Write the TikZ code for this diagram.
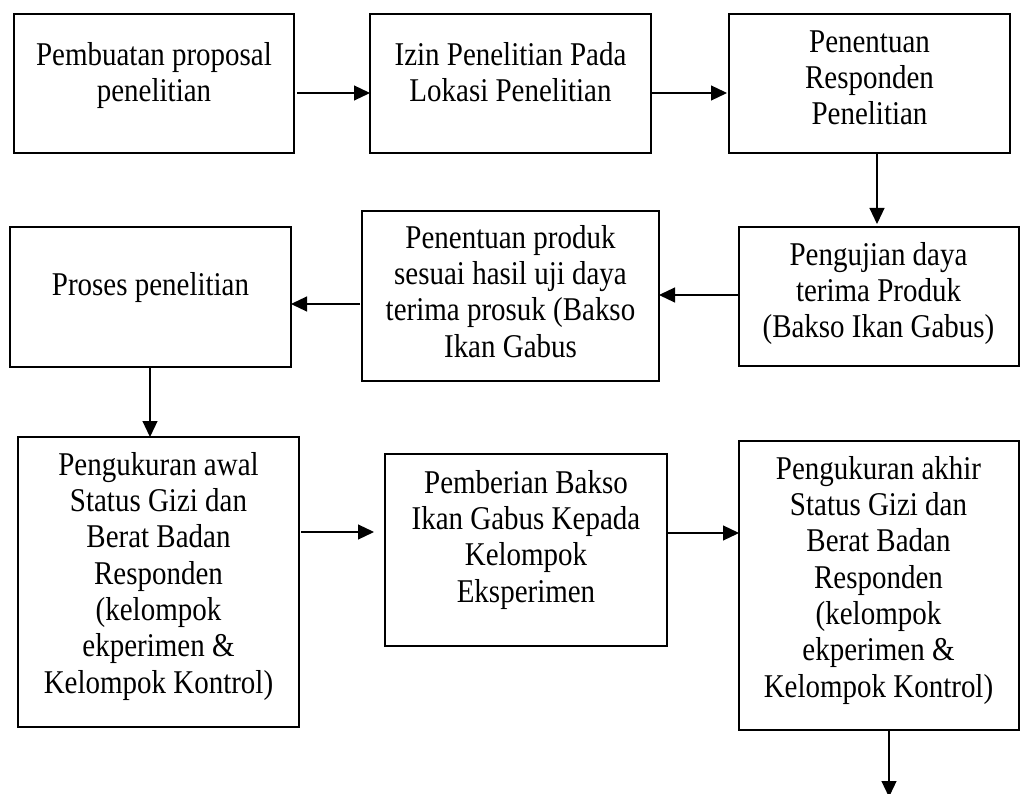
\documentclass[tikz,border=0pt]{standalone}
\usepackage{fontspec}
\setmainfont[FakeStretch=0.873]{Liberation Serif}
\usetikzlibrary{arrows.meta,calc}
\tikzset{
  box/.style={draw=black, line width=2pt, inner sep=0pt, outer sep=0pt, rectangle},
  txt/.style={anchor=north, align=center, inner sep=0pt, font=\fontsize{33.2}{36.3}\selectfont},
  arr/.style={line width=1.2pt, -{Triangle[length=16pt,width=15pt]}}
}
\newcommand{\mkbox}[5]{\node[box, minimum width={#4-#2}, minimum height={#5-#3}] (#1) at ({(#2+#4)/2},{(#3+#5)/2}) {};}
\begin{document}
\begin{tikzpicture}[x=1pt,y=-1pt]
\useasboundingbox (0,0) rectangle (1020,794);
% boxes
\mkbox{b1}{14}{14}{294}{153}
\mkbox{b2}{370}{14}{651}{153}
\mkbox{b3}{729}{14}{1010}{153}
\mkbox{b4}{739}{227}{1018.5}{366}
\mkbox{b5}{362}{211}{659}{381}
\mkbox{b6}{10}{227}{291}{367}
\mkbox{b7}{18}{437}{299}{727}
\mkbox{b8}{385}{454}{667}{646}
\mkbox{b9}{739}{441}{1018.5}{730}
% texts
\node[txt] (t1) at (154,39.6) {\strut Pembuatan proposal\\penelitian};
\node[txt] (t2) at (510.5,39.6) {\strut Izin Penelitian Pada\\Lokasi Penelitian};
\node[txt] (t3) at (869.5,26.6) {\strut Penentuan\\Responden\\Penelitian};
\node[txt] (t4) at (878.5,239.6) {\strut Pengujian daya\\terima Produk\\(Bakso Ikan Gabus)};
\node[txt] (t5) at (510.5,222.6) {\strut Penentuan produk\\sesuai hasil uji daya\\terima prosuk (Bakso\\Ikan Gabus};
\node[txt] (t6) at (150.5,269.6) {\strut Proses penelitian};
\node[txt] (t7) at (158.5,449.6) {\strut Pengukuran awal\\Status Gizi dan\\Berat Badan\\Responden\\(kelompok\\ekperimen \&\\Kelompok Kontrol)};
\node[txt] (t8) at (526,467.6) {\strut Pemberian Bakso\\Ikan Gabus Kepada\\Kelompok\\Eksperimen};
\node[txt] (t9) at (878.5,453.6) {\strut Pengukuran akhir\\Status Gizi dan\\Berat Badan\\Responden\\(kelompok\\ekperimen \&\\Kelompok Kontrol)};
% connectors
\coordinate (end) at (889,797);
\draw[arr, shorten <=3pt] (b1.east |- 0,93) -- (b2.west |- 0,93);
\draw[arr, shorten <=1pt, shorten >=2pt] (b2.east |- 0,93) -- (b3.west |- 0,93);
\draw[arr, shorten >=3pt] (b3.south -| 877,0) -- (b4.north -| 877,0);
\draw[arr] (b4.west |- 0,295) -- (b5.east |- 0,295);
\draw[arr, shorten <=2pt] (b5.west |- 0,304) -- (b6.east |- 0,304);
\draw[arr] (b6.south -| 150,0) -- (b7.north -| 150,0);
\draw[arr, shorten <=2pt, shorten >=11pt] (b7.east |- 0,532) -- (b8.west |- 0,532);
\draw[arr] (b8.east |- 0,533) -- (b9.west |- 0,533);
\draw[arr] (b9.south -| end) -- (end);
\end{tikzpicture}
\end{document}
